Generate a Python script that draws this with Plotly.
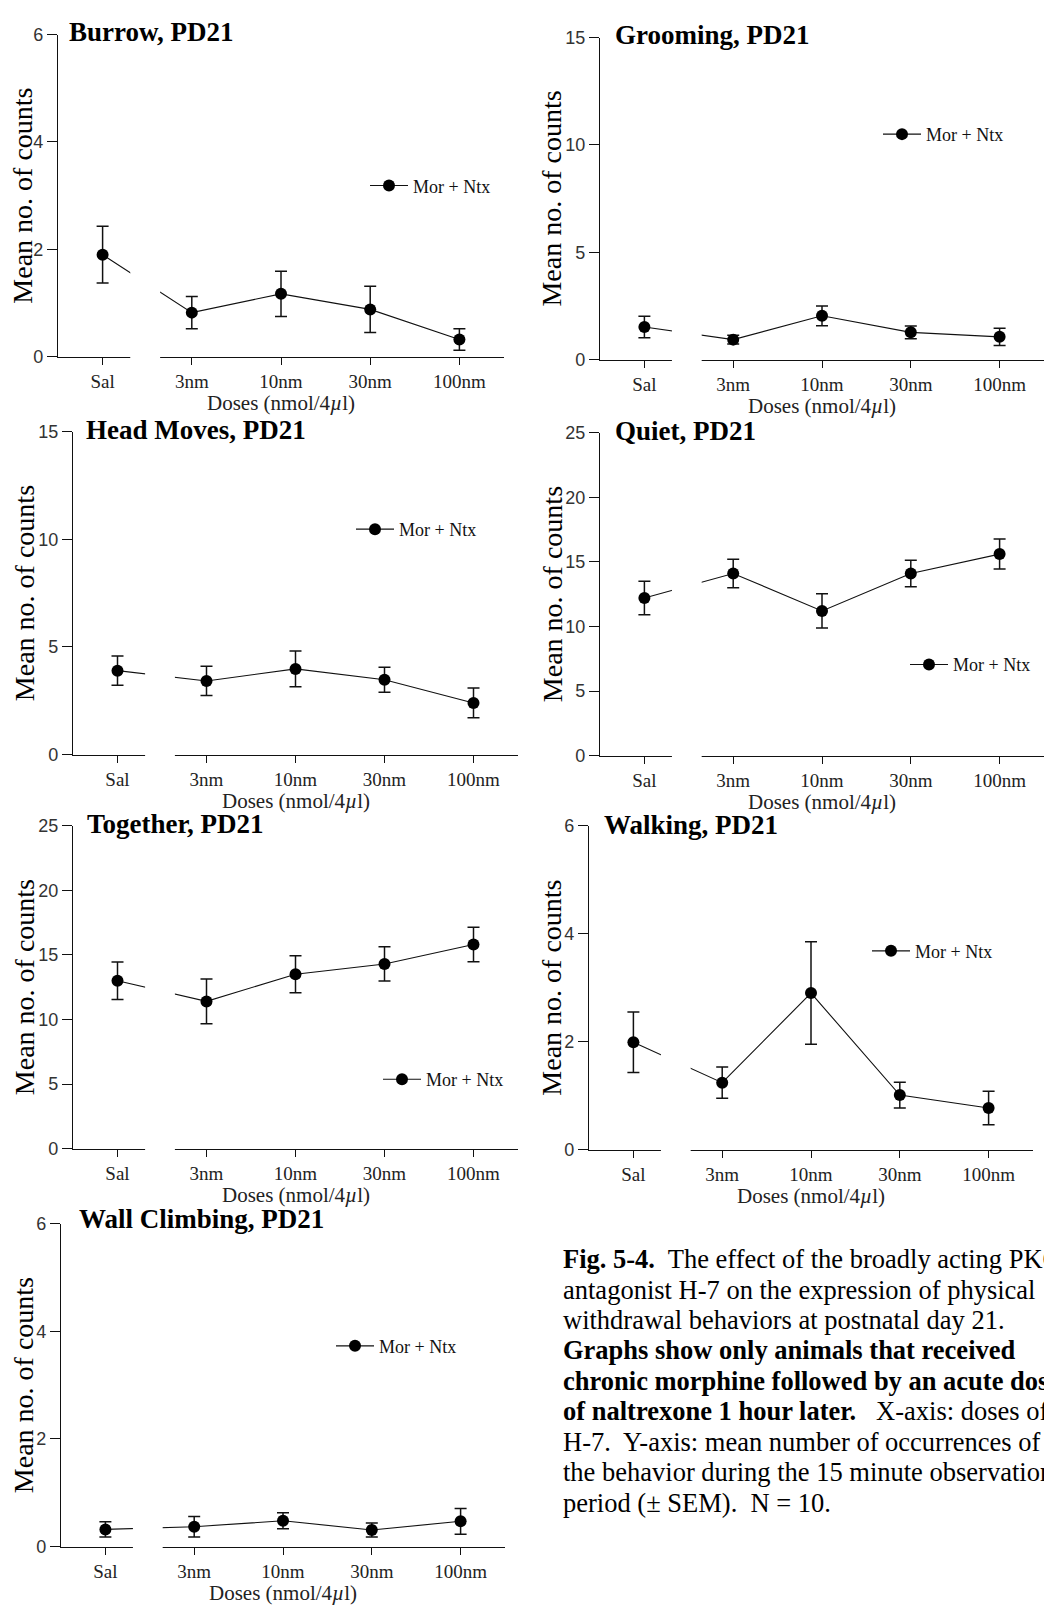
import plotly.graph_objects as go

W, H = 1044, 1606

# ---------------- data ----------------
doses = ["Sal", "3nm", "10nm", "30nm", "100nm"]

burrow_mean = [1.90, 0.82, 1.17, 0.88, 0.32]
burrow_sem = [0.53, 0.30, 0.42, 0.43, 0.20]

grooming_mean = [1.52, 0.93, 2.04, 1.27, 1.06]
grooming_sem = [0.50, 0.20, 0.46, 0.30, 0.40]

headmoves_mean = [3.90, 3.42, 3.98, 3.48, 2.40]
headmoves_sem = [0.68, 0.68, 0.83, 0.58, 0.69]

quiet_mean = [12.2, 14.1, 11.2, 14.1, 15.6]
quiet_sem = [1.30, 1.10, 1.33, 1.02, 1.16]

together_mean = [13.0, 11.4, 13.5, 14.3, 15.8]
together_sem = [1.45, 1.74, 1.43, 1.33, 1.33]

walking_mean = [1.99, 1.24, 2.90, 1.01, 0.77]
walking_sem = [0.56, 0.29, 0.95, 0.24, 0.31]

wallclimb_mean = [0.32, 0.37, 0.48, 0.31, 0.47]
wallclimb_sem = [0.14, 0.19, 0.15, 0.13, 0.24]

titles = ["Burrow, PD21", "Grooming, PD21", "Head Moves, PD21", "Quiet, PD21",
          "Together, PD21", "Walking, PD21", "Wall Climbing, PD21"]
means = [burrow_mean, grooming_mean, headmoves_mean, quiet_mean,
         together_mean, walking_mean, wallclimb_mean]
sems = [burrow_sem, grooming_sem, headmoves_sem, quiet_sem,
        together_sem, walking_sem, wallclimb_sem]
y_max = [6, 15, 15, 25, 25, 6, 6]
y_step = [2, 5, 5, 5, 5, 2, 2]
series_name = "Mor + Ntx"
y_title = "Mean no. of counts"
x_title = "Doses (nmol/4<i>µ</i>l)"

caption_lines = [
    "<b>Fig. 5-4.</b>\u00a0 The effect of the broadly acting PKC",
    "antagonist H-7 on the expression of physical",
    "withdrawal behaviors at postnatal day 21.",
    "<b>Graphs show only animals that received</b>",
    "<b>chronic morphine followed by an acute dose</b>",
    "<b>of naltrexone 1 hour later.</b>\u00a0\u00a0 X-axis: doses of",
    "H-7.\u00a0 Y-axis: mean number of occurrences of",
    "the behavior during the 15 minute observation",
    "period (\u00b1 SEM).\u00a0 N = 10.",
]

# ---------------- layout (pixel geometry) ----------------
# plot box: x0, x1, ytop, ybottom
boxes = [
    (58, 504, 25, 351),
    (600, 1044, 28, 354),
    (73, 518, 427, 754),
    (600, 1044, 428, 755),
    (73, 518, 826, 1153),
    (589, 1033, 826, 1154),
    (61, 505, 1229, 1556),
]
legend_pos = [(384, 178), (897, 126), (370, 526), (924, 663),
              (397, 1083), (886, 953), (350, 1353)]
ytitle_shift = [-35, -48, -49, -48, -49, -37, -38]
title_shift = [(9, 3), (13, 3), (11, 2), (13, 2), (12, 2), (13, 1), (16, 5)]
axis_break = (0.31, 0.645)

SERIF = "Liberation Serif"
SANS = "Liberation Sans"
INK = "#111111"

fig = go.Figure()
layout = dict(
    width=W, height=H,
    margin=dict(l=0, r=0, t=0, b=0),
    paper_bgcolor="white", plot_bgcolor="white",
    showlegend=True,
    font=dict(family=SERIF, color=INK),
)
annotations = []
shapes = []

for i in range(len(titles)):
    k = "" if i == 0 else str(i + 1)
    x0, x1, yt, yb = boxes[i]
    fig.add_trace(go.Scatter(
        x=doses, y=means[i],
        error_y=dict(type="data", array=sems[i], visible=True,
                     color=INK, thickness=1.5, width=6),
        mode="lines+markers",
        marker=dict(size=12, color="black"),
        line=dict(color=INK, width=1.1),
        name=series_name,
        xaxis="x" + k, yaxis="y" + k,
        legend="legend" + k,
        showlegend=True,
        cliponaxis=False,
    ))
    layout["xaxis" + k] = dict(
        domain=[x0 / W, x1 / W], anchor="y" + k,
        type="category", categoryorder="array", categoryarray=doses,
        range=[-0.5, 4.5],
        showline=True, linecolor=INK, linewidth=1.3,
        ticks="outside", ticklen=7, tickwidth=1.3, tickcolor=INK,
        showgrid=False, zeroline=False,
        tickfont=dict(family=SERIF, size=19, color="#222"),
        fixedrange=True,
    )
    layout["yaxis" + k] = dict(
        domain=[1 - yb / H, 1 - yt / H], anchor="x" + k,
        range=[0, y_max[i]], tick0=0, dtick=y_step[i],
        showline=True, linecolor=INK, linewidth=1.3,
        ticks="outside", ticklen=10, tickwidth=1.3, tickcolor=INK,
        showgrid=False, zeroline=False,
        tickfont=dict(family=SANS, size=18, color="#333"),
        fixedrange=True,
    )
    lx, ly = legend_pos[i]
    layout["legend" + k] = dict(
        x=(lx - 24 + 5) / W, y=1 - ly / H,
        xanchor="left", yanchor="middle",
        bgcolor="rgba(0,0,0,0)", borderwidth=0,
        itemwidth=38,
        font=dict(family=SERIF, size=18, color=INK),
    )
    # axis break: white band interrupting the x axis and the connecting line
    shapes.append(dict(
        type="rect", xref="x" + k, yref="y" + k + " domain",
        x0=axis_break[0], x1=axis_break[1], y0=-0.02, y1=1.0,
        fillcolor="white", line=dict(width=0), layer="above",
    ))
    # panel title
    annotations.append(dict(
        text="<b>" + titles[i] + "</b>", xref="x" + k + " domain", yref="y" + k + " domain",
        x=0, y=1, xanchor="left", yanchor="middle",
        xshift=title_shift[i][0], yshift=title_shift[i][1],
        showarrow=False, font=dict(family=SERIF, size=27, color="black"),
    ))
    # y title
    annotations.append(dict(
        text=y_title, xref="x" + k + " domain", yref="y" + k + " domain",
        x=0, y=0.5, xanchor="center", yanchor="middle",
        xshift=ytitle_shift[i], textangle=-90,
        showarrow=False, font=dict(family=SERIF, size=28, color="black"),
    ))
    # x title
    annotations.append(dict(
        text=x_title, xref="x" + k + " domain", yref="y" + k + " domain",
        x=0.5, y=0, xanchor="center", yanchor="middle", yshift=-46,
        showarrow=False, font=dict(family=SERIF, size=21, color="#222"),
    ))

cap_x = 561
cap_y0 = 1265
cap_dy = 30.8
for j, line in enumerate(caption_lines):
    annotations.append(dict(
        text=line, xref="paper", yref="paper",
        x=cap_x / W, y=1 - (cap_y0 + j * cap_dy) / H,
        xanchor="left", yanchor="middle", align="left",
        showarrow=False, font=dict(family=SERIF, size=26.5, color="black"),
    ))

layout["annotations"] = annotations
layout["shapes"] = shapes
fig.update_layout(**layout)

fig.write_html("out.html", config={"displayModeBar": False},
               post_script="document.body.style.margin='0';document.body.style.overflow='hidden';")
